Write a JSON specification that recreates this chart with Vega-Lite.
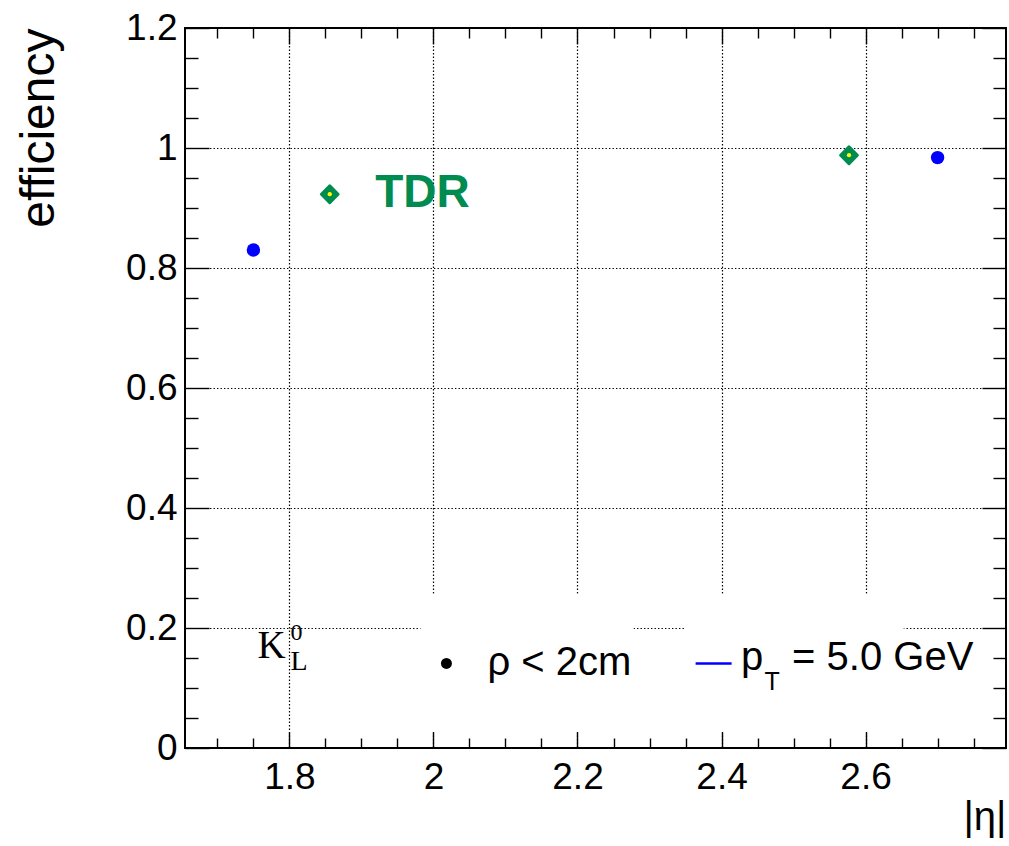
{
  "$schema": "https://vega.github.io/schema/vega-lite/v6.json",
  "width": 821,
  "height": 720,
  "autosize": {"type": "none"},
  "padding": {"left": 185, "top": 28, "right": 3, "bottom": 98},
  "background": "white",
  "config": {
    "view": {"stroke": "black", "strokeWidth": 2},
    "axis": {"labelFont": "Liberation Sans", "titleFont": "Liberation Sans", "labelColor": "black", "titleColor": "black", "titleFontWeight": "normal", "tickColor": "black", "domain": false}
  },
  "datasets": {
    "eff": [
      {"eta": 1.75, "efficiency": 0.83, "series": "K0L rho<2cm pT=5.0 GeV"},
      {"eta": 2.70, "efficiency": 0.984, "series": "K0L rho<2cm pT=5.0 GeV"}
    ],
    "tdr": [
      {"eta": 1.856, "efficiency": 0.923, "series": "TDR"},
      {"eta": 2.577, "efficiency": 0.988, "series": "TDR"}
    ],
    "boxes": [
      {"x1": 1.982, "x2": 2.278, "y1": 0.03, "y2": 0.257},
      {"x1": 2.35, "x2": 2.653, "y1": 0.03, "y2": 0.257}
    ],
    "tdrlabel": [{"eta": 1.919, "efficiency": 0.925, "text": "TDR"}],
    "kbig": [{"eta": 1.7555, "efficiency": 0.15, "text": "K"}],
    "ksup": [{"eta": 1.8015, "efficiency": 0.18, "text": "0"}],
    "ksub": [{"eta": 1.8015, "efficiency": 0.13, "text": "L"}],
    "legdot": [{"eta": 2.018, "efficiency": 0.141}],
    "legline": [{"x1": 2.364, "x2": 2.414, "efficiency": 0.141}],
    "legtext": [
      {"eta": 2.075, "efficiency": 0.122, "text": "ρ < 2cm"},
      {"eta": 2.427, "efficiency": 0.13, "text": "p"},
      {"eta": 2.498, "efficiency": 0.13, "text": "= 5.0 GeV"}
    ],
    "legsub": [{"eta": 2.4595, "efficiency": 0.097, "text": "T"}]
  },
  "resolve": {"axis": {"x": "independent", "y": "independent"}},
  "layer": [
    {
      "data": {"name": "eff"},
      "mark": {"type": "point", "opacity": 0},
      "encoding": {
        "x": {"field": "eta", "type": "quantitative", "scale": {"domain": [1.655, 2.795], "nice": false, "zero": false},
          "axis": {"orient": "bottom", "values": [1.8, 2.0, 2.2, 2.4, 2.6], "format": "~g", "ticks": false, "grid": true, "gridColor": "black", "gridDash": [1.4, 2.1], "gridWidth": 1.2, "gridOpacity": 1,
            "labelFontSize": 37, "labelPadding": 11, "labelFlush": false, "labelOverlap": false,
            "title": "|η|", "titleFontSize": 40, "titleAlign": "right", "titleAnchor": "end", "titleBaseline": "alphabetic", "titleX": 821, "titleY": 81}},
        "y": {"field": "efficiency", "type": "quantitative", "scale": {"domain": [0, 1.2], "nice": false, "zero": false},
          "axis": {"orient": "left", "values": [0, 0.2, 0.4, 0.6, 0.8, 1.0, 1.2], "format": "~g", "ticks": false, "grid": true, "gridColor": "black", "gridDash": [1.4, 2.1], "gridWidth": 1.2, "gridOpacity": 1,
            "labelFontSize": 37, "labelPadding": 8, "labelFlush": false, "labelOverlap": false,
            "title": "efficiency", "titleFontSize": 48, "titleAngle": -90, "titleAlign": "right", "titleAnchor": "end", "titleBaseline": "alphabetic", "titleX": -132, "titleY": 0}}
      }
    },
    {
      "data": {"name": "eff"},
      "mark": {"type": "point", "opacity": 0},
      "encoding": {
        "x": {"field": "eta", "type": "quantitative", "axis": {"orient": "bottom", "values": [1.8, 2.0, 2.2, 2.4, 2.6], "tickSize": -16, "tickWidth": 1.4, "labels": false, "grid": false, "title": null}},
        "y": {"field": "efficiency", "type": "quantitative", "axis": {"orient": "left", "values": [0, 0.2, 0.4, 0.6, 0.8, 1.0, 1.2], "tickSize": -24, "tickWidth": 1.4, "labels": false, "grid": false, "title": null}}
      }
    },
    {
      "data": {"name": "eff"},
      "mark": {"type": "point", "opacity": 0},
      "encoding": {
        "x": {"field": "eta", "type": "quantitative", "axis": {"orient": "bottom", "values": [1.7, 1.75, 1.85, 1.9, 1.95, 2.05, 2.1, 2.15, 2.25, 2.3, 2.35, 2.45, 2.5, 2.55, 2.65, 2.7, 2.75], "tickSize": -10, "tickWidth": 1.4, "labels": false, "grid": false, "title": null}},
        "y": {"field": "efficiency", "type": "quantitative", "axis": {"orient": "left", "values": [0.05, 0.1, 0.15, 0.25, 0.3, 0.35, 0.45, 0.5, 0.55, 0.65, 0.7, 0.75, 0.85, 0.9, 0.95, 1.05, 1.1, 1.15], "tickSize": -13, "tickWidth": 1.4, "labels": false, "grid": false, "title": null}}
      }
    },
    {
      "data": {"name": "eff"},
      "mark": {"type": "point", "opacity": 0},
      "encoding": {
        "x": {"field": "eta", "type": "quantitative", "axis": {"orient": "top", "values": [1.8, 2.0, 2.2, 2.4, 2.6], "tickSize": -16, "tickWidth": 1.4, "labels": false, "grid": false, "title": null}},
        "y": {"field": "efficiency", "type": "quantitative", "axis": {"orient": "right", "values": [0, 0.2, 0.4, 0.6, 0.8, 1.0, 1.2], "tickSize": -24, "tickWidth": 1.4, "labels": false, "grid": false, "title": null}}
      }
    },
    {
      "data": {"name": "eff"},
      "mark": {"type": "point", "opacity": 0},
      "encoding": {
        "x": {"field": "eta", "type": "quantitative", "axis": {"orient": "top", "values": [1.7, 1.75, 1.85, 1.9, 1.95, 2.05, 2.1, 2.15, 2.25, 2.3, 2.35, 2.45, 2.5, 2.55, 2.65, 2.7, 2.75], "tickSize": -10, "tickWidth": 1.4, "labels": false, "grid": false, "title": null}},
        "y": {"field": "efficiency", "type": "quantitative", "axis": {"orient": "right", "values": [0.05, 0.1, 0.15, 0.25, 0.3, 0.35, 0.45, 0.5, 0.55, 0.65, 0.7, 0.75, 0.85, 0.9, 0.95, 1.05, 1.1, 1.15], "tickSize": -13, "tickWidth": 1.4, "labels": false, "grid": false, "title": null}}
      }
    },
    {
      "data": {"name": "boxes"},
      "mark": {"type": "rect", "color": "white"},
      "encoding": {
        "x": {"field": "x1", "type": "quantitative", "axis": null},
        "x2": {"field": "x2"},
        "y": {"field": "y1", "type": "quantitative", "axis": null},
        "y2": {"field": "y2"}
      }
    },
    {
      "data": {"name": "eff"},
      "mark": {"type": "point", "shape": "circle", "filled": true, "color": "#0000ff", "size": 180, "opacity": 1},
      "encoding": {
        "x": {"field": "eta", "type": "quantitative", "axis": null},
        "y": {"field": "efficiency", "type": "quantitative", "axis": null}
      }
    },
    {
      "data": {"name": "tdr"},
      "mark": {"type": "point", "shape": "diamond", "filled": true, "color": "#008c50", "stroke": "#008c50", "strokeWidth": 3, "strokeJoin": "round", "size": 280, "opacity": 1},
      "encoding": {
        "x": {"field": "eta", "type": "quantitative", "axis": null},
        "y": {"field": "efficiency", "type": "quantitative", "axis": null}
      }
    },
    {
      "data": {"name": "tdr"},
      "mark": {"type": "point", "shape": "circle", "filled": true, "color": "#ffff00", "size": 18, "opacity": 1},
      "encoding": {
        "x": {"field": "eta", "type": "quantitative", "axis": null},
        "y": {"field": "efficiency", "type": "quantitative", "axis": null}
      }
    },
    {
      "data": {"name": "tdrlabel"},
      "mark": {"type": "text", "font": "Liberation Sans", "fontWeight": "bold", "fontSize": 46, "color": "#008c50", "align": "left", "baseline": "middle"},
      "encoding": {
        "x": {"field": "eta", "type": "quantitative", "axis": null},
        "y": {"field": "efficiency", "type": "quantitative", "axis": null},
        "text": {"field": "text"}
      }
    },
    {
      "data": {"name": "kbig"},
      "mark": {"type": "text", "font": "Liberation Serif", "fontSize": 39, "color": "black", "align": "left", "baseline": "alphabetic"},
      "encoding": {
        "x": {"field": "eta", "type": "quantitative", "axis": null},
        "y": {"field": "efficiency", "type": "quantitative", "axis": null},
        "text": {"field": "text"}
      }
    },
    {
      "data": {"name": "ksup"},
      "mark": {"type": "text", "font": "Liberation Serif", "fontSize": 24, "color": "black", "align": "left", "baseline": "alphabetic"},
      "encoding": {
        "x": {"field": "eta", "type": "quantitative", "axis": null},
        "y": {"field": "efficiency", "type": "quantitative", "axis": null},
        "text": {"field": "text"}
      }
    },
    {
      "data": {"name": "ksub"},
      "mark": {"type": "text", "font": "Liberation Serif", "fontSize": 28, "color": "black", "align": "left", "baseline": "alphabetic"},
      "encoding": {
        "x": {"field": "eta", "type": "quantitative", "axis": null},
        "y": {"field": "efficiency", "type": "quantitative", "axis": null},
        "text": {"field": "text"}
      }
    },
    {
      "data": {"name": "legdot"},
      "mark": {"type": "point", "shape": "circle", "filled": true, "color": "black", "size": 120, "opacity": 1},
      "encoding": {
        "x": {"field": "eta", "type": "quantitative", "axis": null},
        "y": {"field": "efficiency", "type": "quantitative", "axis": null}
      }
    },
    {
      "data": {"name": "legline"},
      "mark": {"type": "rule", "color": "#0000ff", "strokeWidth": 2.5},
      "encoding": {
        "x": {"field": "x1", "type": "quantitative", "axis": null},
        "x2": {"field": "x2"},
        "y": {"field": "efficiency", "type": "quantitative", "axis": null}
      }
    },
    {
      "data": {"name": "legtext"},
      "mark": {"type": "text", "font": "Liberation Sans", "fontSize": 40, "color": "black", "align": "left", "baseline": "alphabetic"},
      "encoding": {
        "x": {"field": "eta", "type": "quantitative", "axis": null},
        "y": {"field": "efficiency", "type": "quantitative", "axis": null},
        "text": {"field": "text"}
      }
    },
    {
      "data": {"name": "legsub"},
      "mark": {"type": "text", "font": "Liberation Sans", "fontSize": 25, "color": "black", "align": "left", "baseline": "alphabetic"},
      "encoding": {
        "x": {"field": "eta", "type": "quantitative", "axis": null},
        "y": {"field": "efficiency", "type": "quantitative", "axis": null},
        "text": {"field": "text"}
      }
    }
  ]
}
